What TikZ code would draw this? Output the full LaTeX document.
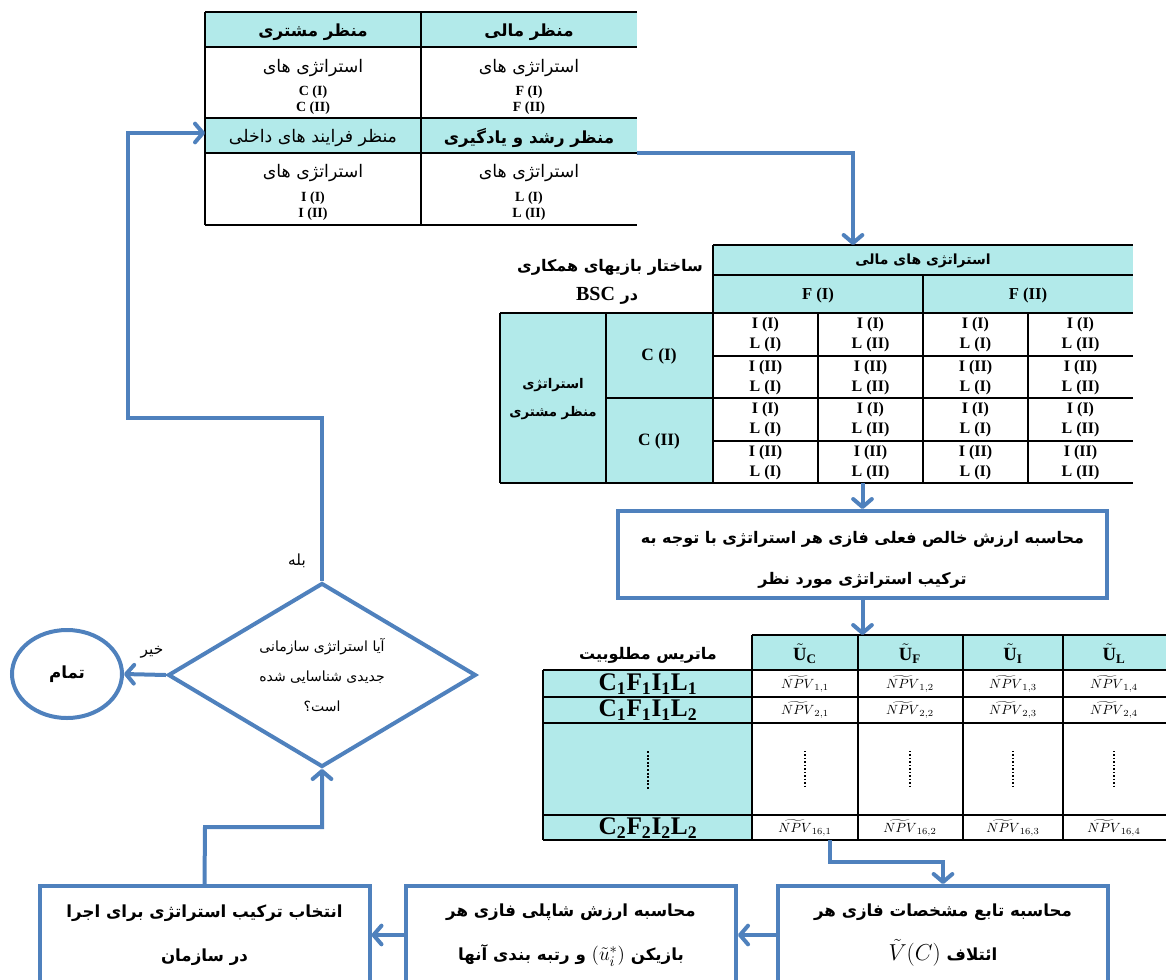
\documentclass[tikz,border=0pt]{standalone}
\usepackage{amsmath}
\usepackage{fontspec}
\setmainfont{Liberation Serif}
\newfontfamily\fafont[Script=Arabic]{DejaVu Sans}
\usetikzlibrary{arrows.meta,shapes.geometric}
\TeXXeTstate=1
\definecolor{flowblue}{RGB}{79,129,189}
\definecolor{hdrcyan}{RGB}{178,234,234}
\newcommand{\rtl}[1]{\beginR #1\endR}
\tikzset{
	flow/.style={draw=flowblue, line width=3pt},
	arr/.style={flow, -{Straight Barb[length=6pt,width=14pt,round]}},
	box/.style={draw=flowblue, line width=3pt, fill=white, align=center, inner sep=0pt,
		font=\fafont\bfseries\fontsize{12.5}{33}\selectfont},
	grid/.style={line width=1.1pt},
	far/.style={inner sep=0pt, font=\fafont\fontsize{13}{14}\selectfont},
	fab/.style={inner sep=0pt, font=\fafont\bfseries\fontsize{12.5}{14}\selectfont},
	lat/.style={inner sep=0pt, align=center, font=\bfseries\fontsize{10.5}{12}\selectfont},
	npv/.style={inner sep=0pt, font=\fontsize{10}{11}\selectfont}
}
\begin{document}
\begin{tikzpicture}[x=0.75pt,y=-0.75pt]
	\clip (0,0) rectangle (1166,979);
	
	%top table: perspectives
	\fill[hdrcyan] (205,12) rectangle (637,47);
	\fill[hdrcyan] (205,118) rectangle (637,153);
	\foreach \y in {12,47,118,153,225}
		\draw[grid] (205,\y)--(637,\y);
	\foreach \x in {205,421}
		\draw[grid] (\x,12)--(\x,225);
	\node[fab] (pCus)  at (313,32)  {\rtl{منظر مشتری}};
	\node[fab] (pFin)  at (529,32)  {\rtl{منظر مالی}};
	\node[far] (pCusS) at (313,68)  {\rtl{استراتژی های}};
	\node[far] (pFinS) at (529,68)  {\rtl{استراتژی های}};
	\node[lat] (pCusL) at (313,100) {C (I)\\C (II)};
	\node[lat] (pFinL) at (529,100) {F (I)\\F (II)};
	\node[far] (pInt)  at (313,138) {\rtl{منظر فرایند های داخلی}};
	\node[fab] (pLrn)  at (529,138) {\rtl{منظر رشد و یادگیری}};
	\node[far] (pIntS) at (313,173) {\rtl{استراتژی های}};
	\node[far] (pLrnS) at (529,173) {\rtl{استراتژی های}};
	\node[lat] (pIntL) at (313,206) {I (I)\\I (II)};
	\node[lat] (pLrnL) at (529,206) {L (I)\\L (II)};
	\coordinate (pOut) at (637,153);
	\coordinate (pIn)  at (205,133);
	
	%BSC game table
	\fill[hdrcyan] (713,245) rectangle (1133,313);
	\fill[hdrcyan] (500,313) rectangle (713,483);
	\draw[grid] (713,245)--(1133,245);
	\draw[grid] (713,275)--(1133,275);
	\draw[grid] (500,313)--(1133,313);
	\draw[grid] (713,356)--(1133,356);
	\draw[grid] (606,398)--(1133,398);
	\draw[grid] (713,441)--(1133,441);
	\draw[grid] (500,483)--(1133,483);
	\foreach \x in {500,606,818,1028}
		\draw[grid] (\x,313)--(\x,483);
	\draw[grid] (713,245)--(713,483);
	\draw[grid] (923,275)--(923,483);
	\node[fab, font=\fafont\bfseries\fontsize{10.5}{12}\selectfont] (gFin) at (923,261) {\rtl{استراتژی های مالی}};
	\node[lat, font=\bfseries\fontsize{12.5}{14}\selectfont] (gF1) at (818,295) {F (I)};
	\node[lat, font=\bfseries\fontsize{12.5}{14}\selectfont] (gF2) at (1028,295) {F (II)};
	\node[fab, font=\fafont\bfseries\fontsize{12}{14}\selectfont] (gTitleA) at (610,267) {\rtl{ساختار بازیهای همکاری}};
	\node[fab, font=\fafont\bfseries\fontsize{12}{14}\selectfont] (gTitleB) at (607,296) {\rtl{در \beginL{\rmfamily\fontsize{15}{16}\selectfont BSC}\endL}};
	\node[lat, font=\fafont\bfseries\fontsize{10}{21}\selectfont] (gCus) at (553,399) {\rtl{استراتژی}\\\rtl{منظر مشتری}};
	\node[lat, font=\bfseries\fontsize{13}{14}\selectfont] (gC1) at (659,356) {C (I)};
	\node[lat, font=\bfseries\fontsize{13}{14}\selectfont] (gC2) at (659,441) {C (II)};
	\foreach \r/\ir in {1/I,2/II,3/I,4/II}
		\foreach \c/\lc in {1/I,2/II,3/I,4/II}
			\node[lat, font=\bfseries\fontsize{12}{15}\selectfont] (g\r\c) at ({660.5+105*\c},{292.5+42.5*\r}) {I (\ir)\\L (\lc)};
	\coordinate (gIn)  at (853,245);
	\coordinate (gOut) at (862,483);
	
	%npv box
	\node[box, minimum width=366.75pt, minimum height=65.25pt] (npv) at (862.5,554.5) {};
	\node[fab, font=\fafont\bfseries\fontsize{12}{14}\selectfont] (npvA) at (862.5,539) {\rtl{محاسبه ارزش خالص فعلی فازی هر استراتژی با توجه به}};
	\node[fab, font=\fafont\bfseries\fontsize{12}{14}\selectfont] (npvB) at (862.5,580) {\rtl{ترکیب استراتژی مورد نظر}};
	
	%utility matrix
	\fill[hdrcyan] (752,635) rectangle (1166,670);
	\fill[hdrcyan] (543,670) rectangle (752,840);
	\draw[grid] (752,635)--(1166,635);
	\foreach \y in {670,697,723,815,840}
		\draw[grid] (543,\y)--(1166,\y);
	\draw[grid] (543,670)--(543,840);
	\foreach \x in {752,858,963,1063}
		\draw[grid] (\x,635)--(\x,840);
	\node[fab, font=\fafont\bfseries\fontsize{12}{14}\selectfont] (mHead) at (648,655) {\rtl{ماتریس مطلوبیت}};
	\node[npv, font=\fontsize{14}{15}\selectfont] (mU1) at (805,654)  {$\tilde{\mathbf{U}}_{\mathbf{C}}$};
	\node[npv, font=\fontsize{14}{15}\selectfont] (mU2) at (910,654)  {$\tilde{\mathbf{U}}_{\mathbf{F}}$};
	\node[npv, font=\fontsize{14}{15}\selectfont] (mU3) at (1013,654) {$\tilde{\mathbf{U}}_{\mathbf{I}}$};
	\node[npv, font=\fontsize{14}{15}\selectfont] (mU4) at (1114,654) {$\tilde{\mathbf{U}}_{\mathbf{L}}$};
	\node[lat, font=\bfseries\fontsize{19}{20}\selectfont] (mR1)  at (648,684) {C\textsubscript{1}F\textsubscript{1}I\textsubscript{1}L\textsubscript{1}};
	\node[lat, font=\bfseries\fontsize{19}{20}\selectfont] (mR2)  at (648,710) {C\textsubscript{1}F\textsubscript{1}I\textsubscript{1}L\textsubscript{2}};
	\node[lat, font=\bfseries\fontsize{19}{20}\selectfont] (mR16) at (648,828) {C\textsubscript{2}F\textsubscript{2}I\textsubscript{2}L\textsubscript{2}};
	\foreach \r/\rn/\y in {1/1/684,2/2/710,3/16/828}
		\foreach \c/\x in {1/805,2/910,3/1013,4/1114}
			\node[npv] (m\r\c) at (\x,\y) {$\widetilde{NPV}_{\rn,\c}$};
	\draw[line width=2pt, dash pattern=on 1.5pt off 1.2pt] (648,751)--(648,790);	%left dots
	\foreach \x in {805,910,1013,1114}
		\draw[line width=0.9pt, dash pattern=on 1pt off 1.6pt] (\x,751)--(\x,789);
	\coordinate (mOut)  at (830,840);
	\coordinate (mTurn) at (830,862);
	
	%bottom boxes
	\node[box, minimum width=247.5pt, minimum height=73.5pt] (vBox) at (943,935)
		{\rtl{محاسبه تابع مشخصات فازی هر}\\\rtl{ائتلاف \mbox{\fontsize{18}{18}\selectfont$\tilde{V}(C)$}}};
	\node[box, minimum width=247.5pt, minimum height=73.5pt] (shBox) at (571,935)
		{\rtl{محاسبه ارزش شاپلی فازی هر}\\\rtl{بازیکن \mbox{\fontsize{15}{15}\selectfont$(\tilde{u}_i^{*})$} و رتبه بندی آنها}};
	\node[box, minimum width=247.5pt, minimum height=73.5pt] (selBox) at (204.5,935)
		{\rtl{انتخاب ترکیب استراتژی برای اجرا}\\\rtl{در سازمان}};
	
	%decision and end
	\node[draw=flowblue, line width=3pt, diamond, aspect=1.67, minimum width=231pt, minimum height=138pt,
		inner sep=0pt, align=center, font=\fafont\fontsize{10.5}{22.5}\selectfont] (dec) at (322,675)
		{\rtl{آیا استراتژی سازمانی}\\\rtl{جدیدی شناسایی شده}\\\rtl{است؟}};
	\node[draw=flowblue, line width=3pt, ellipse, minimum width=82.5pt, minimum height=66pt,
		font=\fafont\bfseries\fontsize{12.5}{14}\selectfont] (end) at (67,674) {\rtl{تمام}};
	\node[far, font=\fafont\fontsize{11.5}{14}\selectfont] (yes) at (297,561) {\rtl{بله}};
	\node[far, font=\fafont\fontsize{11.5}{14}\selectfont] (no)  at (152,652) {\rtl{خیر}};
	\coordinate (yesTurn) at (128,418);
	\coordinate (selTurn) at (205,827);
	
	%arrows
	\draw[arr] (pOut) -| (gIn);							%perspectives to game table
	\draw[arr] (npv.north |- gOut) -- (npv.north);		%game table to npv
	\draw[arr] (npv.south) -- (npv.south |- 0,635);		%npv to matrix
	\draw[arr] (mOut) -- (mTurn) -| (vBox.north);			%matrix to v(C)
	\draw[arr] (vBox.west) -- (shBox.east);
	\draw[arr] (shBox.west) -- (selBox.east);
	\draw[arr] (selBox.north) -- (selTurn) -| (dec.south);
	\draw[arr] (dec.west) -- (end.east);					%no
	\draw[arr] (dec.north) |- (yesTurn) |- (pIn);			%yes, back to top
\end{tikzpicture}
\end{document}
